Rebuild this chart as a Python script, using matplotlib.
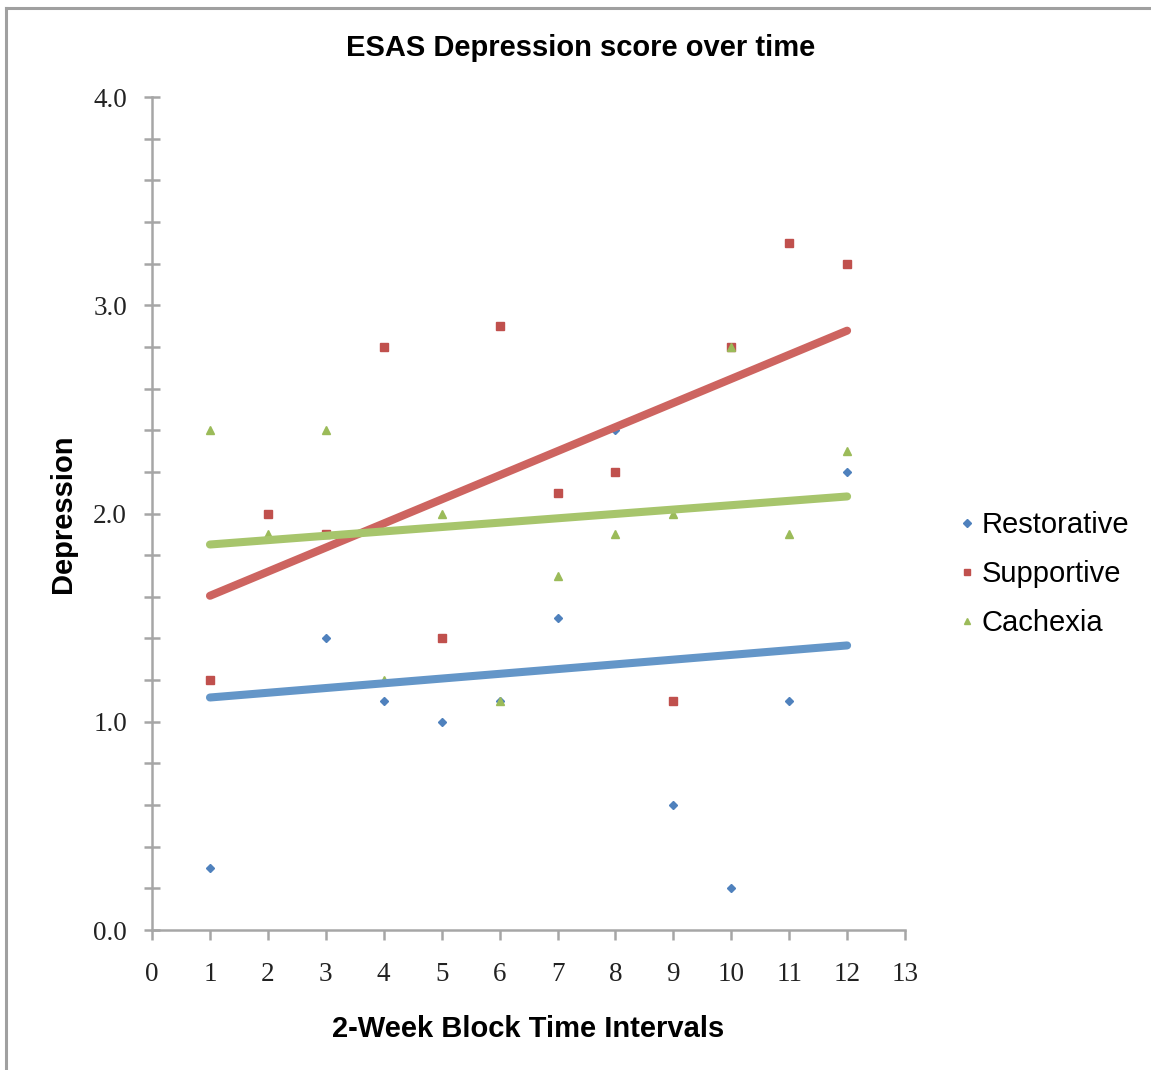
import numpy as np
import matplotlib
matplotlib.use('Agg')
import matplotlib.pyplot as plt
from matplotlib.lines import Line2D
from matplotlib.ticker import MultipleLocator

# 2-week blocks and mean ESAS depression score per group
blocks = [1, 2, 3, 4, 5, 6, 7, 8, 9, 10, 11, 12]
restorative = [0.3, 2.0, 1.4, 1.1, 1.0, 1.1, 1.5, 2.4, 0.6, 0.2, 1.1, 2.2]
supportive = [1.2, 2.0, 1.9, 2.8, 1.4, 2.9, 2.1, 2.2, 1.1, 2.8, 3.3, 3.2]
cachexia = [2.4, 1.9, 2.4, 1.2, 2.0, 1.1, 1.7, 1.9, 2.0, 2.8, 1.9, 2.3]

series = [
    ('Restorative', restorative, 'D', 4.5, '#4F81BD', '#6496C8'),
    ('Supportive', supportive, 's', 5.5, '#C0504D', '#CD6460'),
    ('Cachexia', cachexia, '^', 5.5, '#9BBB59', '#A7C56C'),
]

fig = plt.figure(figsize=(11.51, 10.70), dpi=100)
ax = fig.add_axes([0.1321, 0.1308, 0.6542, 0.7785])

x = np.array(blocks)
for name, vals, mk, ms, c, _ in series:
    ax.plot(x, vals, linestyle='none', marker=mk, markersize=ms,
            color=c, label=name, zorder=3)

# linear trendlines
for name, vals, mk, ms, c, lc in series:
    k, b = np.polyfit(x, vals, 1)
    xs = np.array([x.min(), x.max()])
    ax.plot(xs, k * xs + b, color=lc, linewidth=5.8,
            solid_capstyle='round', zorder=4)

ax.set_xlim(0, 13)
ax.set_ylim(0, 4)
ax.xaxis.set_major_locator(MultipleLocator(1))
ax.yaxis.set_major_locator(MultipleLocator(1))
ax.yaxis.set_minor_locator(MultipleLocator(0.2))
ax.yaxis.set_major_formatter(matplotlib.ticker.FormatStrFormatter('%.1f'))

for s in ['top', 'right']:
    ax.spines[s].set_visible(False)
for s in ['left', 'bottom']:
    ax.spines[s].set_color('#A6A6A6')
    ax.spines[s].set_linewidth(1.8)

ax.tick_params(axis='y', which='both', direction='inout', length=12,
               width=1.8, color='#A6A6A6', pad=12)
ax.tick_params(axis='x', which='major', direction='out', length=7,
               width=1.8, color='#A6A6A6', pad=16)
for lab in ax.get_xticklabels() + ax.get_yticklabels():
    lab.set_fontfamily('Liberation Serif')
    lab.set_fontsize(19.5)
    lab.set_color('#222222')

fig.text(581 / 1151, 1 - 48 / 1070, 'ESAS Depression score over time',
         fontsize=21, fontweight='bold', family='Liberation Sans',
         ha='center', va='center')
ax.set_xlabel('2-Week Block Time Intervals', fontsize=21,
              fontweight='bold', family='Liberation Sans', labelpad=20)
ax.set_ylabel('Depression', fontsize=21, fontweight='bold',
              family='Liberation Sans', labelpad=12)

leg = fig.legend(*ax.get_legend_handles_labels(), loc='center left',
                 bbox_to_anchor=(961 / 1151, 1 - 574 / 1070),
                 frameon=False, prop={'family': 'Liberation Sans', 'size': 21},
                 handlelength=0.4, handletextpad=0.3, labelspacing=0.73,
                 borderpad=0, borderaxespad=0, markerscale=0.8)

# thin grey frame round the chart area
fig.add_artist(Line2D([5.5 / 1151, 5.5 / 1151], [0, 1 - 8 / 1070],
                      color='#A0A0A0', linewidth=2.2))
fig.add_artist(Line2D([5.5 / 1151, 1], [1 - 8 / 1070, 1 - 8 / 1070],
                      color='#A0A0A0', linewidth=2.2))

fig.savefig('out.png', dpi=100)
